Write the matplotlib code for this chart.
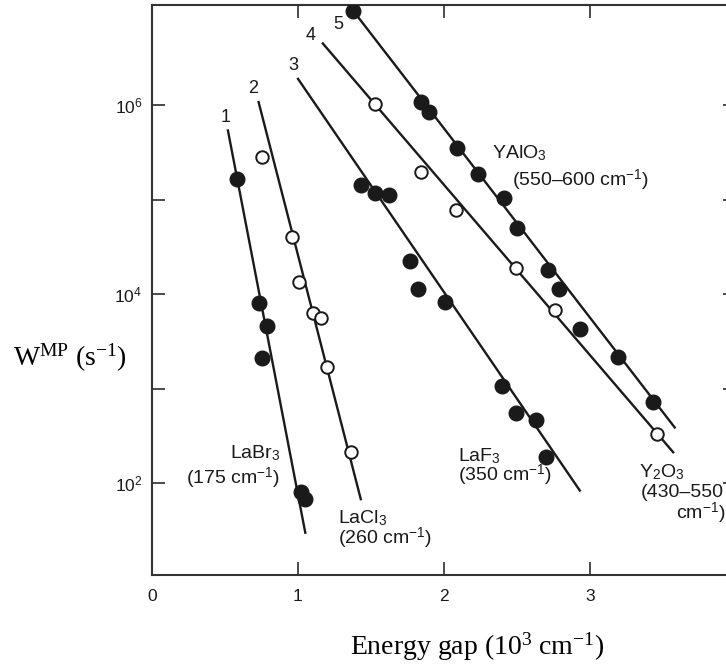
import numpy as np
import matplotlib.pyplot as plt
from matplotlib.ticker import NullFormatter

plt.rcParams['font.family'] = ['Liberation Sans', 'DejaVu Sans']
plt.rcParams['mathtext.fontset'] = 'custom'
plt.rcParams['mathtext.rm'] = 'Liberation Serif'
plt.rcParams['mathtext.sf'] = 'Liberation Sans'
plt.rcParams['mathtext.it'] = 'Liberation Serif:italic'

# multiphonon decay rate vs energy gap, one set per host crystal
# 1: LaBr3
labr_gap = [0.58, 0.73, 0.79, 0.75, 1.02, 1.05]
labr_w = [1.65e5, 8.0e3, 4.6e3, 2.1e3, 80, 69]
labr_fit_gap = [0.52, 1.05]
labr_fit_w = [5.4e5, 30]

# 2: LaCl3
lacl_gap = [0.75, 0.96, 1.01, 1.10, 1.16, 1.20, 1.36]
lacl_w = [2.8e5, 4.0e4, 1.34e4, 6.3e3, 5.6e3, 1.69e3, 213]
lacl_fit_gap = [0.73, 1.43]
lacl_fit_w = [1.08e6, 68]

# 3: LaF3
laf_gap = [1.43, 1.53, 1.62, 1.77, 1.82, 2.01, 2.40, 2.49, 2.63, 2.70]
laf_w = [1.42e5, 1.17e5, 1.12e5, 2.23e4, 1.13e4, 8.2e3, 1.06e3, 550, 465, 188]
laf_fit_gap = [1.00, 2.93]
laf_fit_w = [1.9e6, 84]

# 4: Y2O3
yo_gap = [1.53, 1.84, 2.08, 2.49, 2.76, 3.46]
yo_w = [1.03e6, 1.95e5, 7.7e4, 1.88e4, 6.8e3, 330]
yo_fit_gap = [1.17, 3.57]
yo_fit_w = [4.5e6, 213]

# 5: YAlO3
yalo_gap = [1.38, 1.84, 1.90, 2.09, 2.23, 2.41, 2.50, 2.71, 2.79, 2.93, 3.19, 3.43]
yalo_w = [9.9e6, 1.08e6, 8.4e5, 3.5e5, 1.86e5, 1.04e5, 5.0e4, 1.8e4, 1.13e4,
          4.3e3, 2.15e3, 720]
yalo_fit_gap = [1.38, 3.58]
yalo_fit_w = [9.9e6, 390]

x_ticks = [0, 1, 2, 3, 4]
y_major = [1e2, 1e4, 1e6]
y_major_labels = [r'$\mathsf{10^{2}}$', r'$\mathsf{10^{4}}$', r'$\mathsf{10^{6}}$']
y_minor = [1e3, 1e5]

ink = '#1a1a1a'

fig = plt.figure(figsize=(7.26, 6.64), dpi=100)
ax = fig.add_axes([152 / 726, 89 / 664, 584 / 726, 570 / 664])

sets = [
    (labr_gap, labr_w, labr_fit_gap, labr_fit_w, True),
    (lacl_gap, lacl_w, lacl_fit_gap, lacl_fit_w, False),
    (laf_gap, laf_w, laf_fit_gap, laf_fit_w, True),
    (yo_gap, yo_w, yo_fit_gap, yo_fit_w, False),
    (yalo_gap, yalo_w, yalo_fit_gap, yalo_fit_w, True),
]
for gap, w, fgap, fw, filled in sets:
    ax.plot(fgap, fw, color=ink, lw=1.7, zorder=2)
    if filled:
        ax.plot(gap, w, 'o', ms=10.5, mfc=ink, mec=ink, zorder=3)
    else:
        ax.plot(gap, w, 'o', ms=9, mfc='white', mec=ink, mew=1.4, zorder=3)

ax.set_yscale('log')
ax.set_xlim(0, 4)
ax.set_ylim(10 ** 1.03, 10 ** 7.06)

ax.set_xticks(x_ticks)
ax.set_xticklabels([str(t) for t in x_ticks])
ax.set_yticks(y_major)
ax.set_yticklabels(y_major_labels)
ax.set_yticks(y_minor, minor=True)
ax.yaxis.set_minor_formatter(NullFormatter())
ax.tick_params(which='both', direction='in', length=9.5, width=1.1,
               top=True, right=True, colors=ink, labelsize=12.5)
ax.tick_params(axis='x', pad=10)
ax.tick_params(axis='y', pad=7)
for s in ax.spines.values():
    s.set_linewidth(1.5)
    s.set_color('#333333')

# curve numbers
num_kw = dict(fontsize=13, color=ink, ha='center', va='center')
ax.text(0.507, 10 ** 5.873, '1', **num_kw)
ax.text(0.692, 10 ** 6.18, '2', **num_kw)
ax.text(0.966, 10 ** 6.423, '3', **num_kw)
ax.text(1.089, 10 ** 6.741, '4', **num_kw)
ax.text(1.274, 10 ** 6.857, '5', **num_kw)

lab_kw = dict(fontsize=14, color=ink, va='center', clip_on=False)
ax.text(0.877, 10 ** 2.317, r'LaBr$_\mathsf{3}$', ha='right', **lab_kw)
ax.text(0.877, 10 ** 2.053, r'(175 cm$^{\mathsf{-1}}$)', ha='right', **lab_kw)
ax.text(1.274, 10 ** 1.63, r'LaCl$_\mathsf{3}$', ha='left', **lab_kw)
ax.text(1.274, 10 ** 1.418, r'(260 cm$^{\mathsf{-1}}$)', ha='left', **lab_kw)
ax.text(2.096, 10 ** 2.286, r'LaF$_\mathsf{3}$', ha='left', **lab_kw)
ax.text(2.096, 10 ** 2.085, r'(350 cm$^{\mathsf{-1}}$)', ha='left', **lab_kw)
ax.text(2.329, 10 ** 5.492, r'YAlO$_\mathsf{3}$', ha='left', **lab_kw)
ax.text(2.466, 10 ** 5.206, r'(550–600 cm$^{\mathsf{-1}}$)', ha='left', **lab_kw)
ax.text(3.336, 10 ** 2.116, r'Y$_\mathsf{2}$O$_\mathsf{3}$', ha='left', **lab_kw)
ax.text(3.349, 10 ** 1.905, '(430–550', ha='left', **lab_kw)
ax.text(3.925, 10 ** 1.683, r'cm$^{\mathsf{-1}}$)', ha='right', **lab_kw)

serif = ['Liberation Serif', 'DejaVu Serif']
fig.text(13 / 726, 1 - 358 / 664, r'W$^{\mathrm{MP}}$ (s$^{\mathrm{-1}}$)',
         family=serif, fontsize=20, color='black', ha='left', va='center')
fig.text(477 / 726, 1 - 647 / 664, r'Energy gap (10$^{\mathrm{3}}$ cm$^{\mathrm{-1}}$)',
         family=serif, fontsize=20, color='black', ha='center', va='center')

fig.savefig('out.png', dpi=100)
